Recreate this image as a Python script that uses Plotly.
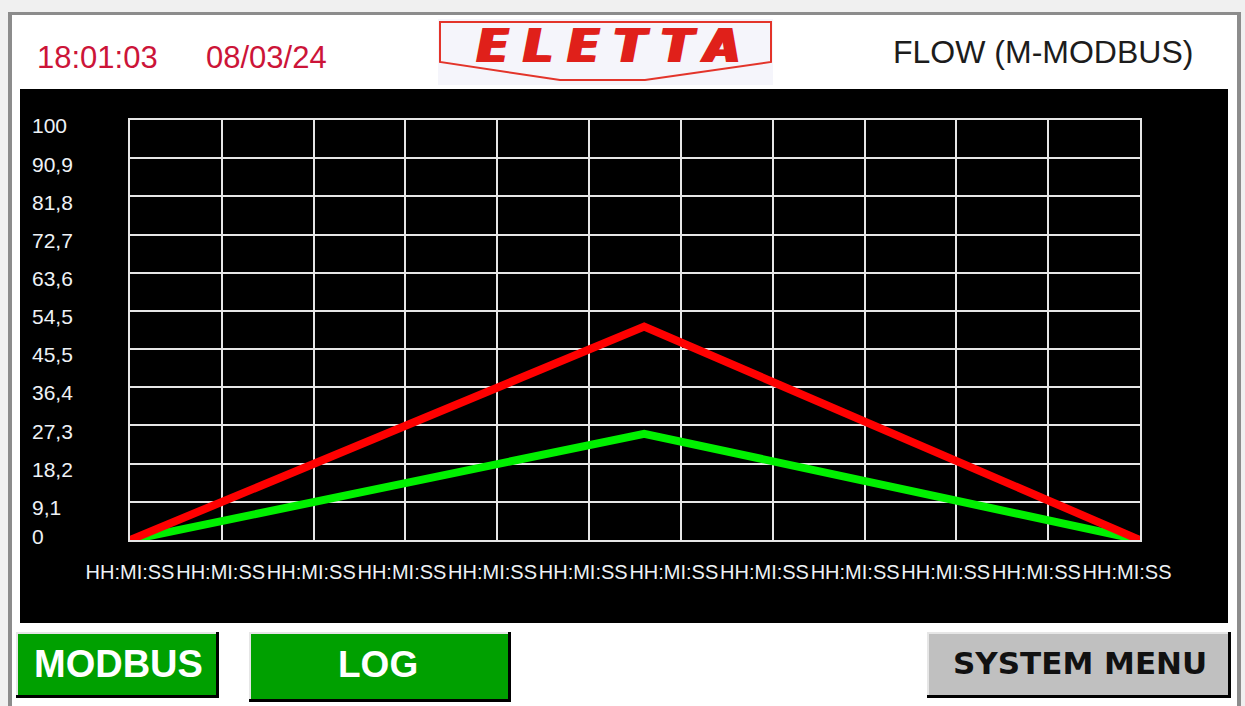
import plotly.graph_objects as go

# ---------------- data ----------------
sample_pos = [0, 5.6, 11]            # position along the time axis (grid divisions)
flow_red = [0, 50.8, 0]
flow_green = [0, 25.3, 0]

x_tick_vals = list(range(12))
x_tick_text = ["HH:MI:SS"] * 12

y_tick_vals = [100, 90.9, 81.8, 72.7, 63.6, 54.5, 45.5, 36.4, 27.3, 18.2, 9.1]
y_tick_text = ["100", "90,9", "81,8", "72,7", "63,6", "54,5", "45,5", "36,4", "27,3", "18,2", "9,1"]
y_zero_val = [0]
y_zero_text = ["0"]
y_grid_vals = [i * 100 / 11 for i in range(12)]

time_text = "18:01:03"
date_text = "08/03/24"
title_text = "FLOW (M-MODBUS)"
logo_text = "ELETTA"
btn_texts = ["MODBUS", "LOG", "SYSTEM MENU"]

# ---------------- layout helpers ----------------
W, H = 1245, 706


def fx(p):
    return p / W


def fy(p):
    return 1 - p / H


def rect(x0, y0, x1, y1, fill, line_color=None, line_width=0):
    return dict(type="rect", xref="paper", yref="paper", layer="below",
                x0=fx(x0), x1=fx(x1), y0=fy(y1), y1=fy(y0),
                fillcolor=fill,
                line=dict(color=line_color or fill, width=line_width))


fig = go.Figure()
fig.add_trace(go.Scatter(x=sample_pos, y=flow_green, mode="lines",
                         line=dict(color="#00f000", width=8), showlegend=False,
                         hoverinfo="skip", cliponaxis=False))
fig.add_trace(go.Scatter(x=sample_pos, y=flow_red, mode="lines",
                         line=dict(color="#ff0000", width=8), showlegend=False,
                         hoverinfo="skip", cliponaxis=False))
# empty traces so that the label axes get drawn
fig.add_trace(go.Scatter(x=[], y=[], xaxis="x2", yaxis="y", showlegend=False, hoverinfo="skip"))
fig.add_trace(go.Scatter(x=[], y=[], xaxis="x", yaxis="y2", showlegend=False, hoverinfo="skip"))
fig.add_trace(go.Scatter(x=[], y=[], xaxis="x", yaxis="y3", showlegend=False, hoverinfo="skip"))

shapes = []
# window chrome
shapes.append(rect(11, 13, 1239, 706, "#ffffff"))
shapes.append(rect(8, 12, 1241, 15, "#8c8c8c"))
shapes.append(rect(8, 12, 12, 706, "#8c8c8c"))
shapes.append(rect(1237, 12, 1241, 706, "#8c8c8c"))
# black chart panel
shapes.append(rect(20, 89, 1228, 623, "#000000"))
# logo
shapes.append(rect(438, 19, 773, 85, "#f5f5fb"))
logo_path = "M {},{} L {},{} L {},{} L {},{} L {},{} L {},{} Z".format(
    fx(440), fy(22), fx(771), fy(22), fx(771), fy(62),
    fx(645), fy(80), fx(560), fy(80), fx(440), fy(62))
shapes.append(dict(type="path", xref="paper", yref="paper", layer="below",
                   path=logo_path, line=dict(color="#e3342a", width=2)))
# buttons (shadow + face)
btns = [(17, 633, 216, 695, "#00a000"),
        (250, 633, 508, 699, "#00a000"),
        (928, 633, 1228, 695, "#c0c0c0")]
for (x0, y0, x1, y1, c) in btns:
    shapes.append(rect(x0 - 1, y0 - 1, x1 + 3, y1 + 3, "#000000"))
    shapes.append(rect(x0 - 1, y0 - 1, x1, y1, "#e6e6e6"))
    shapes.append(rect(x0 + 1, y0 + 1, x1, y1, c))

annotations = []


def text(t, x, y, size, color, family="Liberation Sans", bold=False):
    annotations.append(dict(text=("<b>%s</b>" % t) if bold else t,
                            xref="paper", yref="paper", x=fx(x), y=fy(y),
                            xanchor="center", yanchor="middle", showarrow=False,
                            font=dict(size=size, color=color, family=family)))


text(time_text, 97, 57, 31, "#cc1438")
text(date_text, 266, 57, 31, "#cc1438")
text(title_text, 1043, 52, 32, "#1c1c1c")
annotations.append(dict(
    text='<b><i><span style="letter-spacing:15px">%s</span></i></b>' % logo_text,
    xref="paper", yref="paper", x=fx(614), y=fy(46),
    xanchor="center", yanchor="middle", showarrow=False,
    font=dict(size=46, color="#e0201a", family="DejaVu Sans",
              shadow="2px 0px 0px #e0201a, 4px 0px 0px #e0201a")))
text(btn_texts[0], 118, 664, 38, "#ffffff", bold=True)
text(btn_texts[1], 378, 664, 37, "#ffffff", bold=True)
text(btn_texts[2], 1080, 663, 31, "#111111", family="DejaVu Sans", bold=True)

label_color = "#eef2f6"
fig.update_layout(
    width=W, height=H, autosize=False,
    margin=dict(l=0, r=0, t=0, b=0, pad=0, autoexpand=False),
    paper_bgcolor="#f0f0f0",
    plot_bgcolor="#000000",
    showlegend=False,
    shapes=shapes,
    annotations=annotations,
    xaxis=dict(domain=[fx(130), fx(1140)], range=[0, 11],
               tickvals=x_tick_vals, showticklabels=False, ticks="",
               showgrid=True, gridcolor="#e6e6e6", gridwidth=2,
               zeroline=False, showline=True, linecolor="#e6e6e6",
               linewidth=2, mirror=True, fixedrange=True, automargin=False),
    yaxis=dict(domain=[fy(540), fy(120)], range=[0, 100],
               tickvals=y_grid_vals, showticklabels=False, ticks="",
               showgrid=True, gridcolor="#e6e6e6", gridwidth=2,
               zeroline=False, showline=True, linecolor="#e6e6e6",
               linewidth=2, mirror=True, fixedrange=True, automargin=False),
    xaxis2=dict(overlaying="x", anchor="y", side="bottom",
                range=[0, 11.143], tickvals=x_tick_vals,
                ticktext=x_tick_text, ticks="", showgrid=False, tickangle=0,
                zeroline=False, showline=False, ticklabelstandoff=18,
                tickfont=dict(size=20, color=label_color,
                              family="Liberation Sans"), fixedrange=True,
                automargin=False),
    yaxis2=dict(overlaying="y", anchor="free", side="right",
                position=fx(31), range=[0, 100], tickvals=y_tick_vals,
                ticktext=y_tick_text, ticks="", showgrid=False, tickangle=0,
                zeroline=False, showline=False, ticklabelshift=6,
                tickfont=dict(size=21, color=label_color,
                              family="Liberation Sans"), fixedrange=True,
                automargin=False),
    yaxis3=dict(overlaying="y", anchor="free", side="right",
                position=fx(31), range=[0, 100], tickvals=y_zero_val,
                ticktext=y_zero_text, ticks="", showgrid=False, tickangle=0,
                zeroline=False, showline=False, ticklabelshift=-3,
                tickfont=dict(size=21, color=label_color,
                              family="Liberation Sans"), fixedrange=True,
                automargin=False),
)

fig.write_html("out.html", config={"displayModeBar": False, "staticPlot": True},
               post_script="document.body.style.margin='0px';document.body.style.overflow='hidden';")
